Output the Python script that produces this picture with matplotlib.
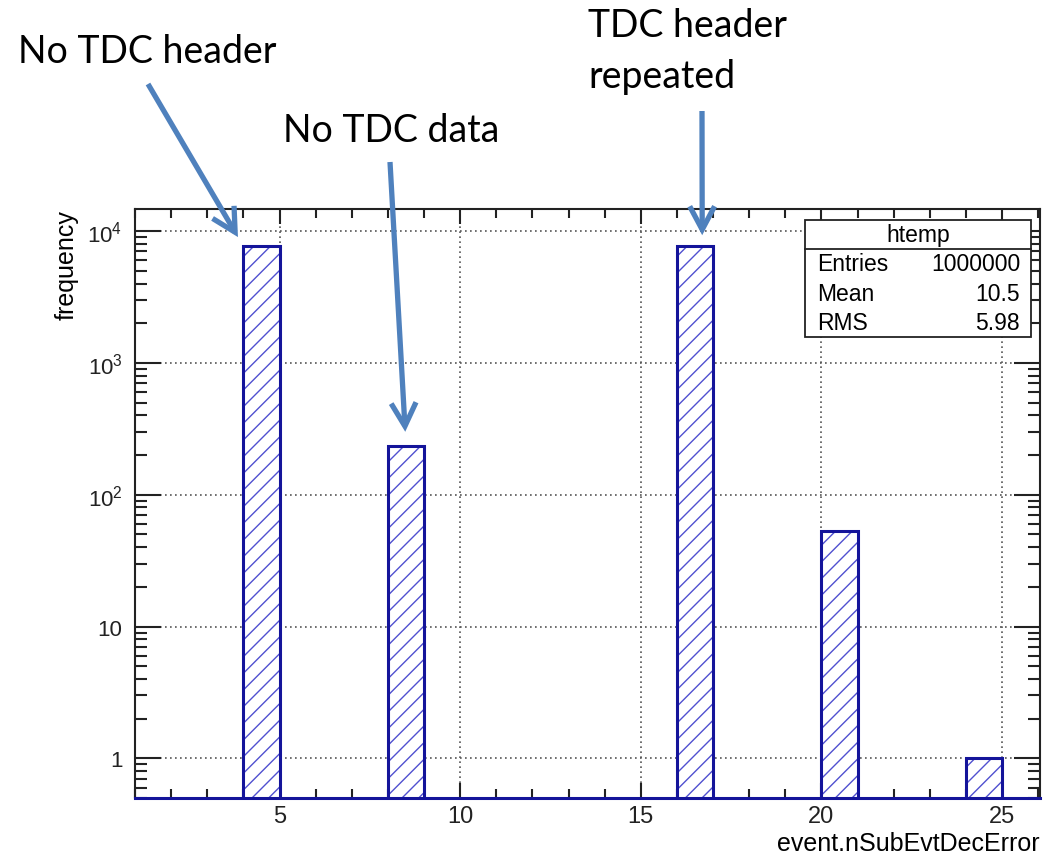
import numpy as np
import matplotlib.pyplot as plt
from matplotlib.patches import Rectangle
from matplotlib.ticker import FixedLocator, FixedFormatter, LogLocator, NullFormatter, MultipleLocator

# histogram contents (bins of width 1)
bin_lo = [4, 8, 16, 20, 24]
counts = [7750, 235, 7750, 53, 1]
bin_width = 1.0

ytick_vals = [1, 10, 100, 1000, 10000]
ytick_text = ['1', '10', '$10^2$', '$10^3$', '$10^4$']
xtick_vals = [5, 10, 15, 20, 25]

stats_title = 'htemp'
stats_names = ['Entries', 'Mean', 'RMS']
stats_vals = ['1000000', '10.5', '5.98']

# annotations: text, arrow head (data x, y)
notes = ['No TDC header', 'No TDC data', 'TDC header\nrepeated']
note_head = [(3.85, 9000), (8.48, 300), (16.7, 9300)]

plt.rcParams['font.family'] = ['Liberation Sans', 'DejaVu Sans']
plt.rcParams['mathtext.default'] = 'regular'
plt.rcParams['hatch.linewidth'] = 1.0

W, H = 1057, 854
fig = plt.figure(figsize=(W/100., H/100.), dpi=100)
ax = fig.add_axes([135./W, 1-799./H, 905./W, 589./H])

edge_col = '#14149a'
hatch_col = '#5050d0'
arrow_col = '#4f81bd'

base = 0.1
heights = np.array(counts, dtype=float) - base
ax.bar(bin_lo, heights, width=bin_width, align='edge', bottom=base,
       facecolor='white', edgecolor=hatch_col, hatch='//', linewidth=0, zorder=2)
ax.bar(bin_lo, heights, width=bin_width, align='edge', bottom=base,
       facecolor='none', edgecolor=edge_col, linewidth=2.2, zorder=3)

ax.set_yscale('log')
ax.set_xlim(1, 26.05)
ax.set_ylim(0.5, 14700)

ax.yaxis.set_major_locator(FixedLocator(ytick_vals))
ax.yaxis.set_major_formatter(FixedFormatter(ytick_text))
ax.yaxis.set_minor_locator(LogLocator(base=10, subs=np.arange(2, 10)))
ax.yaxis.set_minor_formatter(NullFormatter())
ax.xaxis.set_major_locator(FixedLocator(xtick_vals))
ax.xaxis.set_minor_locator(MultipleLocator(1))

ax.tick_params(which='both', direction='in', top=True, right=True,
               colors='#222222', width=1.5)
ax.tick_params(axis='y', which='major', length=19, labelsize=16, pad=9)
ax.tick_params(axis='y', which='minor', length=8.5)
ax.tick_params(axis='x', which='major', length=11, labelsize=17, pad=5)
ax.tick_params(axis='x', which='minor', length=6.5)

ax.grid(True, which='major', linestyle=(0, (1, 2)), color='#555555', linewidth=1.2, zorder=1)
ax.set_axisbelow(True)

for s in ax.spines.values():
    s.set_linewidth(1.5)
    s.set_color('#222222')
ax.spines['bottom'].set_color(edge_col)
ax.spines['bottom'].set_linewidth(2.2)
ax.spines['bottom'].set_zorder(4)

ax.set_xlabel('event.nSubEvtDecError', fontsize=18, loc='right', labelpad=3)
ax.set_ylabel('frequency', fontsize=18, loc='top')
ax.yaxis.set_label_coords((65.5 - 135 + 13) / 905., 1.0)

# stats box
bx0, bx1 = 0.740, 0.990
by0, by1, bdiv = 0.783, 0.981, 0.932
ax.add_patch(Rectangle((bx0, by0), bx1-bx0, by1-by0, transform=ax.transAxes,
                       facecolor='white', edgecolor='#222222', linewidth=1.3, zorder=10, clip_on=False))
ax.plot([bx0, bx1], [bdiv, bdiv], transform=ax.transAxes, color='#222222', lw=1.3, zorder=11, clip_on=False)
ax.text((bx0+bx1)/2, (by1+bdiv)/2, stats_title, transform=ax.transAxes, ha='center', va='center',
        fontsize=16.5, zorder=12)
row_y = [0.907, 0.856, 0.808]
for name, val, yy in zip(stats_names, stats_vals, row_y):
    ax.text(0.754, yy, name, transform=ax.transAxes, ha='left', va='center', fontsize=16.5, zorder=12)
    ax.text(0.978, yy, val, transform=ax.transAxes, ha='right', va='center', fontsize=16.5, zorder=12)

# annotations with arrows (figure pixels, origin bottom-left)
text_left = [18, 283, 588]
text_base = [63, 142, 37]
line_step = 51
tail_pos = [(148, 85), (390, 163), (702, 112)]
for txt, head, tx, tb, tail in zip(notes, note_head, text_left, text_base, tail_pos):
    for k, line in enumerate(txt.split('\n')):
        fig.text(tx/W, 1 - (tb + k*line_step)/H, line, ha='left', va='baseline', fontsize=27,
                 family=['Lato', 'DejaVu Sans'])
    ax.annotate('', xy=head, xycoords='data', xytext=(tail[0], H - tail[1]), textcoords='figure pixels',
                arrowprops=dict(arrowstyle='->,head_length=0.6,head_width=0.32', lw=3.8,
                                color=arrow_col, shrinkA=0, shrinkB=0, mutation_scale=28,
                                joinstyle='miter', capstyle='butt'),
                annotation_clip=False, zorder=20)

plt.savefig('out.png', dpi=100)
